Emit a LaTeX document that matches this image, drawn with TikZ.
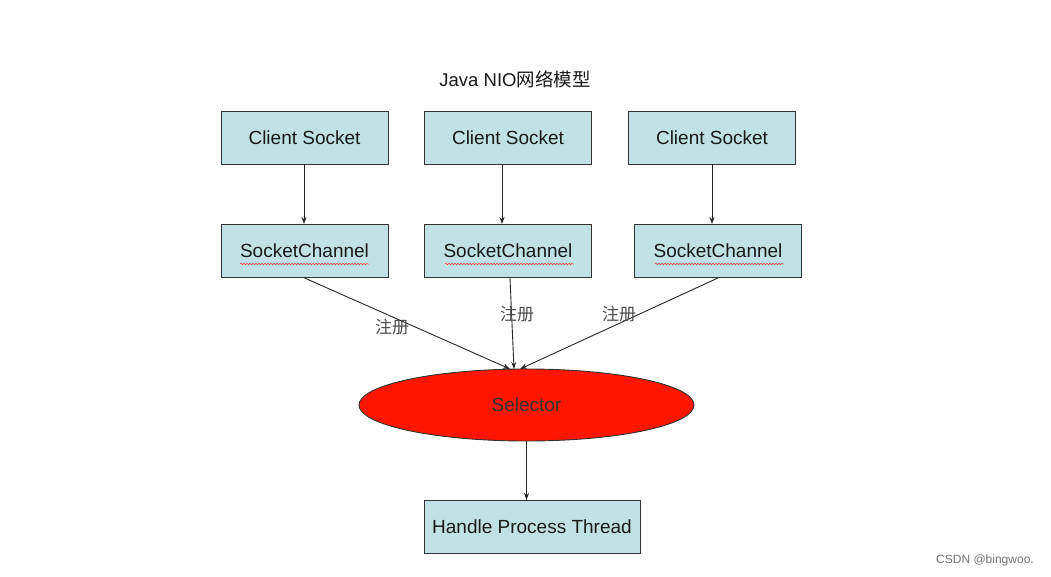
\documentclass[tikz,border=0pt]{standalone}
\usepackage{fontspec}
\setmainfont{Liberation Sans}
\newfontfamily\cjk{Noto Sans CJK SC}
\usetikzlibrary{arrows.meta,shapes.geometric,decorations.pathmorphing}
\definecolor{boxfill}{RGB}{192,226,230}
\definecolor{selred}{RGB}{255,22,0}
\definecolor{txt}{RGB}{25,25,25}
\tikzset{
  box/.style={draw=black!80, line width=0.9pt, fill=boxfill, minimum width=167pt, minimum height=53pt, inner sep=0pt, font=\fontsize{19}{21}\selectfont, text=txt},
  conn/.style={draw=black!85, line width=0.9pt, -{Stealth[length=7pt,width=5pt]}},
  lbl/.style={font=\cjk\fontsize{17}{19}\selectfont, text=black!70},
  squig/.style={draw=red!80, line width=0.5pt, decorate, decoration={snake, amplitude=0.8pt, segment length=3pt}}
}
\begin{document}
\begin{tikzpicture}[x=1pt,y=-1pt]
\useasboundingbox (0,0) rectangle (1051,577);
\fill[white] (0,0) rectangle (1051,577);

\node[font=\fontsize{18.5}{20}\selectfont, text=txt] (title) at (515,79) {Java NIO{\cjk 网络模型}};

\node[box] (cs1) at (304.5,137.5) {Client Socket};
\node[box] (cs2) at (508,137.5) {Client Socket};
\node[box] (cs3) at (712,137.5) {Client Socket};

\node[box] (sc1) at (304.5,251) {SocketChannel};
\node[box] (sc2) at (508,251) {SocketChannel};
\node[box] (sc3) at (718,251) {SocketChannel};

\node[ellipse, draw=black!80, line width=0.9pt, fill=selred, minimum width=335pt, minimum height=72pt, inner sep=0pt, font=\fontsize{19}{21}\selectfont, text=black!80] (sel) at (526.5,405) {Selector};

\node[box, minimum width=216pt] (hpt) at (532,527) {Handle Process Thread};

% spell-check squiggles
\path[squig] (240,264) -- (369,264);
\path[squig] (445,264) -- (574,264);
\path[squig] (655,264) -- (784,264);

\draw[conn] (cs1.south -| 304,0) -- (sc1.north -| 304,0);
\draw[conn] (cs2.south -| 502,0) -- (sc2.north -| 502,0);
\draw[conn] (cs3.south -| 712,0) -- (sc3.north -| 712,0);

\coordinate (t1) at (510,369);
\coordinate (t2) at (514,369);
\coordinate (t3) at (520,369);
\draw[conn] (sc1.south) -- (t1);
\draw[conn] (sc2.south -| 510,0) -- (t2);
\draw[conn] (sc3.south) -- (t3);

\node[lbl] (l1) at (392,327) {注册};
\node[lbl] (l2) at (517,314) {注册};
\node[lbl] (l3) at (619,314) {注册};

\draw[conn] (sel.south) -- (hpt.north -| sel.south);

\node[font=\fontsize{12}{14}\selectfont, text=black!55] (csdn) at (985,560) {CSDN @bingwoo.};
\end{tikzpicture}
\end{document}
